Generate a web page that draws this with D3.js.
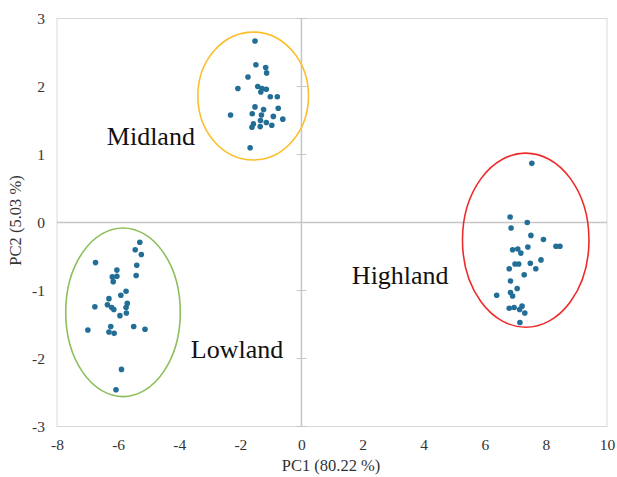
<!DOCTYPE html>
<html>
<head>
<meta charset="utf-8">
<script src="https://cdn.jsdelivr.net/npm/d3@7"></script>
<style>
  body { margin: 0; background: #fff; }
  text { font-family: "Liberation Serif", "Times New Roman", serif; fill: #222; }
</style>
</head>
<body>
<div id="root"></div>
<script>
// PC scores, one array per group
let midland = [
    [-1.52, 2.67], [-1.49, 2.32], [-1.17, 2.28], [-1.14, 2.20], [-1.75, 2.14],
    [-2.08, 1.97], [-1.43, 2.00], [-1.29, 1.97], [-1.15, 1.96], [-1.33, 1.92],
    [-1.02, 1.85], [-0.79, 1.85], [-2.32, 1.58], [-1.52, 1.70], [-1.24, 1.66],
    [-0.76, 1.68], [-1.61, 1.60], [-1.31, 1.58], [-0.92, 1.56], [-0.61, 1.52],
    [-1.34, 1.50], [-1.15, 1.47], [-1.57, 1.45], [-1.62, 1.40], [-1.35, 1.41],
    [-0.97, 1.43], [-1.68, 1.10]
];

let lowland = [
    [-5.29, -0.29], [-5.44, -0.40], [-5.24, -0.47], [-6.74, -0.59], [-5.39, -0.63],
    [-6.04, -0.70], [-6.19, -0.80], [-6.04, -0.79], [-6.16, -0.87], [-5.41, -0.78],
    [-5.74, -1.01], [-5.91, -1.07], [-6.30, -1.12], [-5.70, -1.19], [-6.35, -1.21],
    [-6.21, -1.25], [-6.14, -1.28], [-5.74, -1.25], [-6.76, -1.24], [-5.73, -1.33],
    [-5.94, -1.37], [-6.99, -1.58], [-6.24, -1.53], [-5.49, -1.53], [-5.12, -1.57],
    [-6.30, -1.61], [-6.13, -1.63], [-5.89, -2.16], [-6.07, -2.46]
];

let highland = [
    [7.54, 0.87], [6.83, 0.08], [7.39, 0.00], [6.86, -0.08], [7.51, -0.19],
    [7.92, -0.25], [8.33, -0.35], [8.46, -0.35], [7.41, -0.36], [6.91, -0.40],
    [7.08, -0.39], [7.18, -0.45], [7.84, -0.55], [6.99, -0.61], [7.11, -0.61],
    [7.49, -0.60], [6.80, -0.68], [7.67, -0.68], [7.29, -0.77], [6.84, -0.86],
    [7.06, -0.97], [6.84, -1.03], [6.91, -1.08], [6.39, -1.07], [6.80, -1.26],
    [6.96, -1.25], [7.14, -1.28], [7.22, -1.23], [7.31, -1.33], [7.15, -1.47]
];

// group ellipses: centre and radii in data units
let groups = [
    {name: 'Midland',  cx: -1.58, cy: 1.86,  rx: 1.81, ry: 0.94, color: '#fbbf2d', lx: -6.37, ly: 1.14},
    {name: 'Lowland',  cx: -5.84, cy: -1.32, rx: 1.875, ry: 1.24, color: '#8cbf5b', lx: -3.62, ly: -1.99},
    {name: 'Highland', cx: 7.34,  cy: -0.26, rx: 2.07, ry: 1.28, color: '#ee2b2b', lx: 1.65, ly: -0.91}
];

let xTicks = [-8, -6, -4, -2, 0, 2, 4, 6, 8, 10];
let yTicks = [-3, -2, -1, 0, 1, 2, 3];

let x = d3.scaleLinear().domain([-8, 10]).range([57, 607]);
let y = d3.scaleLinear().domain([-3, 3]).range([426.5, 18.5]);

let svg = d3.select('#root').append('svg')
    .attr('width', 617)
    .attr('height', 477);

// plot frame
svg.append('rect')
    .attr('x', x(-8))
    .attr('y', y(3))
    .attr('width', x(10) - x(-8))
    .attr('height', y(-3) - y(3))
    .attr('fill', 'none')
    .attr('stroke', '#d9d9d9');

// zero axes
svg.append('line')
    .attr('x1', x(-8)).attr('x2', x(10))
    .attr('y1', y(0)).attr('y2', y(0))
    .attr('stroke', '#c6c6c6')
    .attr('stroke-width', 1.5);

svg.append('line')
    .attr('x1', x(0)).attr('x2', x(0))
    .attr('y1', y(3)).attr('y2', y(-3))
    .attr('stroke', '#c6c6c6')
    .attr('stroke-width', 1.5);

// cross tick marks on the vertical zero axis
svg.append('g')
    .selectAll('line')
    .data(yTicks)
    .join('line')
    .attr('x1', x(0) - 5).attr('x2', x(0) + 5)
    .attr('y1', d => y(d)).attr('y2', d => y(d))
    .attr('stroke', '#c6c6c6');

// tick labels, Excel style at the low edge, plain hyphen minus
let fmt = d => String(d);
let xAxis = svg.append('g')
    .attr('transform', `translate(0,${y(-3)})`)
    .call(d3.axisBottom(x).tickValues(xTicks).tickFormat(fmt).tickSize(0).tickPadding(12));
let yAxis = svg.append('g')
    .attr('transform', `translate(${x(-8)},0)`)
    .call(d3.axisLeft(y).tickValues(yTicks).tickFormat(fmt).tickSize(0).tickPadding(12));

[xAxis, yAxis].forEach(g => {
    g.attr('font-family', '"Liberation Serif", serif').attr('font-size', 15);
    g.select('.domain').remove();
    g.selectAll('text')
        .style('font-family', '"Liberation Serif", serif')
        .style('font-size', '15.5px')
        .style('fill', '#333');
});

// axis titles
svg.append('text')
    .attr('x', 331)
    .attr('y', 471)
    .attr('text-anchor', 'middle')
    .style('font-size', '16.5px')
    .style('fill', '#333')
    .text('PC1 (80.22 %)');

svg.append('text')
    .attr('transform', `translate(21,${y(0) - 2}) rotate(-90)`)
    .attr('text-anchor', 'middle')
    .style('font-size', '16.5px')
    .style('fill', '#333')
    .text('PC2 (5.03 %)');

// points
let pointColor = '#236e96';
[midland, lowland, highland].forEach(series => {
    svg.append('g')
        .selectAll('circle')
        .data(series)
        .join('circle')
        .attr('cx', d => x(d[0]))
        .attr('cy', d => y(d[1]))
        .attr('r', 2.8)
        .attr('fill', pointColor);
});

// group ellipses
svg.append('g')
    .selectAll('ellipse')
    .data(groups)
    .join('ellipse')
    .attr('cx', d => x(d.cx))
    .attr('cy', d => y(d.cy))
    .attr('rx', d => x(d.cx + d.rx) - x(d.cx))
    .attr('ry', d => y(d.cy - d.ry) - y(d.cy))
    .attr('fill', 'none')
    .attr('stroke', d => d.color)
    .attr('stroke-width', 1.6);

// group names
svg.append('g')
    .selectAll('text')
    .data(groups)
    .join('text')
    .attr('x', d => x(d.lx))
    .attr('y', d => y(d.ly))
    .style('font-size', '26px')
    .style('fill', '#111')
    .text(d => d.name);
</script>
</body>
</html>
